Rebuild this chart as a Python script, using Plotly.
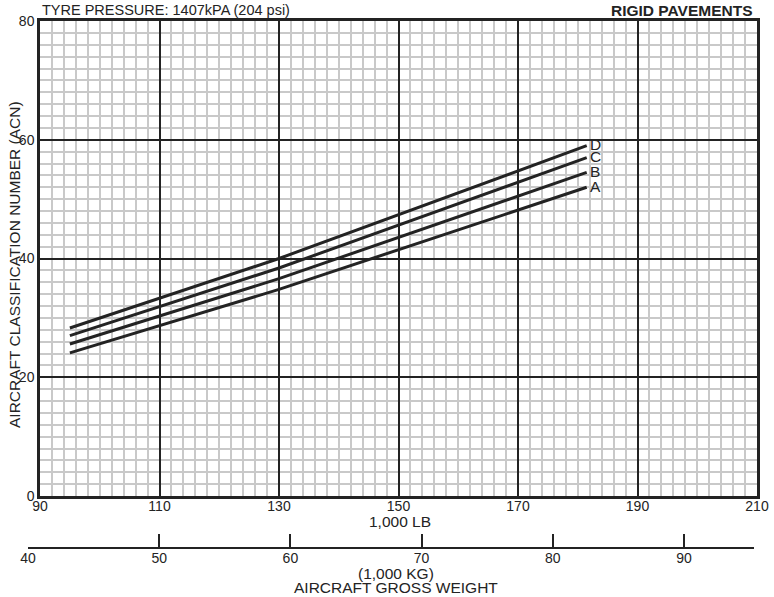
import plotly.graph_objects as go

# ---- data ----
weight_lb = [95, 130, 181.5]          # 1,000 LB
acn_A = [24.1, 34.8, 52.0]
acn_B = [25.6, 36.6, 54.5]
acn_C = [27.0, 38.4, 57.0]
acn_D = [28.3, 40.0, 59.0]
curve_names = ["A", "B", "C", "D"]
lb_ticks = [90, 110, 130, 150, 170, 190, 210]
kg_ticks = [40, 50, 60, 70, 80, 90]
acn_ticks = [0, 20, 40, 60, 80]

INK = "#232323"
FONT = "Liberation Sans, Arial, sans-serif"

W, H = 774, 597
ML, MR, MT, MB = 28, 17, 21, 50
PW = W - ML - MR
PH = H - MT - MB

def px_x(px):
    return (px - ML) / PW

def px_y(py):
    return (H - MB - py) / PH

fig = go.Figure()

for name, ys in zip(curve_names, [acn_A, acn_B, acn_C, acn_D]):
    fig.add_trace(go.Scatter(
        x=weight_lb, y=ys, mode="lines",
        line=dict(color=INK, width=3),
        showlegend=False, hoverinfo="skip",
    ))
    fig.add_annotation(
        x=weight_lb[-1], y=ys[-1], xref="x", yref="y",
        text=name, showarrow=False, xanchor="left", yanchor="middle",
        xshift=1, yshift=1, font=dict(family=FONT, size=15.5, color=INK),
    )

# helper trace for the kg axis
fig.add_trace(go.Scatter(
    x=[kg_ticks[0]], y=[0], xaxis="x2", yaxis="y2", mode="markers",
    marker=dict(size=1, opacity=0), showlegend=False, hoverinfo="skip",
))

fig.update_layout(
    width=W, height=H,
    margin=dict(l=ML, r=MR, t=MT, b=MB, autoexpand=False),
    paper_bgcolor="white", plot_bgcolor="white",
    font=dict(family=FONT, size=14, color=INK),
    xaxis=dict(
        domain=[px_x(40), 1], range=[90, 210], anchor="y", automargin=False,
        tickvals=lb_ticks, ticks="", showgrid=True,
        gridcolor=INK, gridwidth=2,
        minor=dict(dtick=2, tick0=90, showgrid=True, gridcolor="#c9c9c9", gridwidth=1.5),
        showline=True, linecolor=INK, linewidth=2.5, mirror=True,
        zeroline=False, tickfont=dict(size=14, color=INK), ticklabelstandoff=-5,
    ),
    yaxis=dict(
        domain=[px_y(496), 1], range=[0, 80], anchor="x", automargin=False,
        tickvals=acn_ticks, ticks="", showgrid=True,
        gridcolor=INK, gridwidth=2,
        minor=dict(dtick=2, tick0=0, showgrid=True, gridcolor="#c9c9c9", gridwidth=1.5),
        showline=True, linecolor=INK, linewidth=2.5, mirror=True,
        zeroline=False, tickfont=dict(size=14, color=INK), ticklabelstandoff=0,
    ),
    xaxis2=dict(
        domain=[0, px_x(754)], range=[40, 40 + (754 - 28) / 13.12], anchor="y2",
        automargin=False,
        tickvals=kg_ticks, ticks="inside", ticklen=13, tickwidth=1.5, tickcolor=INK,
        showgrid=False, zeroline=False,
        showline=True, linecolor=INK, linewidth=2,
        tickfont=dict(size=14, color=INK), ticklabelstandoff=-3,
    ),
    yaxis2=dict(domain=[0, 0.02], range=[0, 1], visible=False, anchor="x2", automargin=False),
)

annos = [
    dict(text="TYRE PRESSURE: 1407kPA (204 psi)", x=px_x(40), y=px_y(10),
         xanchor="left", yanchor="middle", font=dict(size=14.5)),
    dict(text="<b>RIGID PAVEMENTS</b>", x=px_x(755), y=px_y(10),
         xanchor="right", yanchor="middle", font=dict(size=15.5)),
    dict(text="1,000 LB", x=px_x(400), y=px_y(521),
         xanchor="center", yanchor="middle", font=dict(size=15.5)),
    dict(text="(1,000 KG)", x=px_x(396), y=px_y(573),
         xanchor="center", yanchor="middle", font=dict(size=15.5)),
    dict(text="AIRCRAFT GROSS WEIGHT", x=px_x(396), y=px_y(587),
         xanchor="center", yanchor="middle", font=dict(size=15.5)),
    dict(text="AIRCRAFT CLASSIFICATION NUMBER (ACN)", x=px_x(14), y=px_y(265),
         xanchor="center", yanchor="middle", textangle=-90, font=dict(size=15.5)),
]
for a in annos:
    f = dict(family=FONT, color=INK)
    f.update(a.pop("font"))
    fig.add_annotation(xref="paper", yref="paper", showarrow=False, font=f, **a)

fig.write_html(
    "out.html",
    config={"displayModeBar": False},
    post_script="document.body.style.margin='0px';document.body.style.padding='0px';"
                "document.body.style.overflow='hidden';",
)
